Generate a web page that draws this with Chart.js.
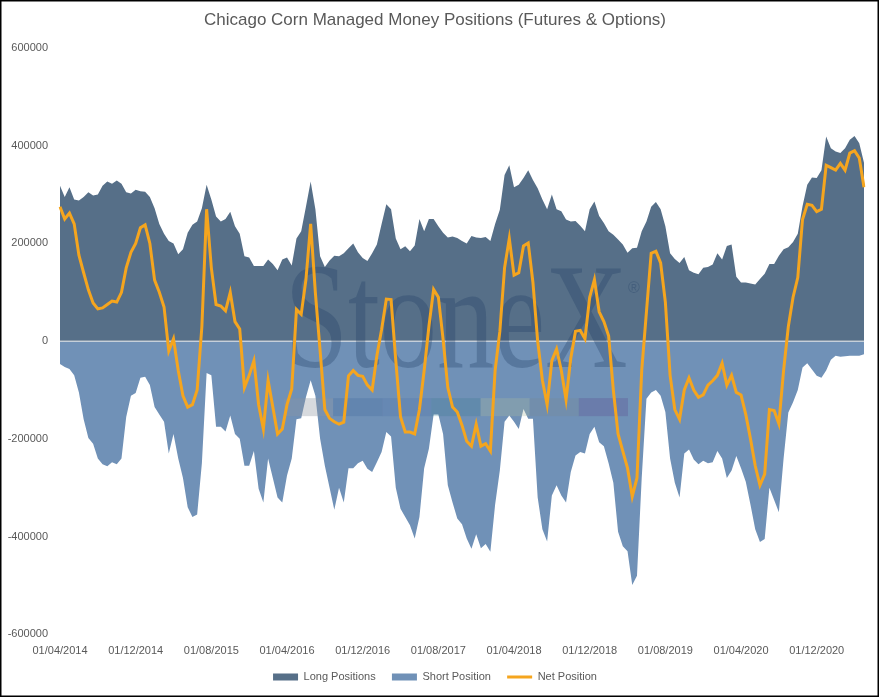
<!DOCTYPE html>
<html lang="en">
<head>
<meta charset="utf-8">
<title>Chicago Corn Managed Money Positions</title>
<script src="https://cdn.jsdelivr.net/npm/chart.js@4.4.1/dist/chart.umd.min.js"></script>
<style>
  html, body { margin: 0; padding: 0; background: #fff; }
  #wrap { width: 880px; height: 698px; position: relative; }
</style>
</head>
<body>
<div id="wrap"><canvas id="chart" width="880" height="698"></canvas></div>
<script>
// values, about every half month from 01/04/2014 (thousands of contracts)
var longPositions = [
  318,295,315,290,288,295,305,298,300,318,327,322,329,322,305,302,310,307,306,295,
  272,240,220,205,200,178,188,222,238,245,272,320,290,255,245,250,
  265,235,220,174,171,154,154,154,167,158,145,167,171,155,210,225,275,327,270,174,
  152,165,175,174,180,190,200,182,170,164,180,198,240,280,270,210,188,194,184,196,
  250,225,250,250,235,222,212,
  214,211,205,200,215,212,211,213,205,240,269,340,360,315,320,334,350,330,313,290,
  270,300,270,266,249,245,246,236,225,270,286,256,242,225,218,208,198,181,190,191,
  225,245,
  275,285,270,235,180,168,160,172,145,140,137,150,152,157,180,167,195,198,132,120,
  120,118,116,127,138,158,158,175,188,192,203,220,276,320,335,334,350,419,395,388,
  385,395,412,420,405,365
];
var shortPositions = [
  -47,-53,-57,-70,-105,-160,-198,-210,-240,-252,-256,-248,-252,-240,-155,-112,-106,-75,-73,-90,
  -135,-150,-165,-230,-190,-240,-280,-340,-360,-355,-250,-65,-70,-175,-175,-185,
  -152,-190,-200,-255,-255,-225,-302,-330,-240,-280,-320,-330,-275,-240,-160,-158,-115,-80,-112,-200,
  -255,-300,-345,-300,-330,-260,-260,-250,-245,-261,-268,-248,-227,-186,-195,-300,-343,-360,-377,-404,
  -360,-260,-220,-150,-150,-190,-295,
  -330,-363,-375,-404,-425,-395,-424,-415,-431,-335,-265,-165,-152,-165,-180,-139,-159,-159,-320,-385,
  -410,-316,-295,-316,-330,-268,-234,-227,-230,-190,-175,-207,-215,-250,-290,-390,-420,-430,-499,-480,
  -280,-118,
  -105,-100,-112,-145,-240,-290,-320,-230,-222,-242,-252,-245,-250,-248,-225,-240,-280,-265,-235,-260,
  -288,-335,-385,-411,-405,-300,-325,-350,-240,-146,-125,-100,-54,-45,-58,-71,-75,-60,-38,-30,
  -32,-31,-30,-30,-30,-27
];
var netPositions = [
  275,250,262,240,176,140,105,78,66,68,75,82,80,100,150,182,200,232,238,200,
  125,100,70,-20,5,-60,-112,-135,-130,-100,30,270,150,75,72,62,
  100,40,25,-95,-70,-40,-130,-180,-80,-135,-190,-180,-130,-98,65,55,126,240,99,-20,
  -140,-158,-165,-170,-166,-71,-60,-70,-72,-90,-100,-30,24,86,85,-40,-155,-186,-186,-190,
  -140,-60,30,106,90,4,-95,
  -135,-145,-172,-205,-215,-170,-215,-210,-225,-60,20,150,210,135,140,195,201,120,0,-80,
  -130,-40,-16,-60,-120,-35,20,22,5,90,126,60,40,11,-100,-190,-225,-260,-318,-280,
  -60,60,
  180,184,160,80,-70,-140,-160,-100,-75,-100,-115,-110,-90,-81,-70,-45,-90,-70,-105,-110,
  -150,-200,-255,-295,-272,-140,-142,-169,-60,30,90,130,249,280,278,265,270,360,355,350,
  364,350,385,390,375,315
];
var tickLabels = ['01/04/2014','01/12/2014','01/08/2015','01/04/2016','01/12/2016','01/08/2017',
                  '01/04/2018','01/12/2018','01/08/2019','01/04/2020','01/12/2020'];
var yTicks = [-600000, -400000, -200000, 0, 200000, 400000, 600000];

// half-month dates as category labels
var categories = [];
for (var k = 0; k < longPositions.length; k++) {
  var m = 3 + Math.floor(k / 2);
  var yr = 2014 + Math.floor(m / 12);
  var mm = String(m % 12 + 1).padStart(2, '0');
  categories.push((k % 2 ? '15' : '01') + '/' + mm + '/' + yr);
}
function toContracts(a) { return a.map(function (v) { return v * 1000; }); }

var darkBlue = '#566f88';
var lightBlue = '#7091b7';
var orange = '#f5a51e';
var greyText = '#595959';

//Logo, zero line and frame
var decor = {
  id: 'decor',
  afterDatasetDraw: function (chart, args) {
    if (args.index !== 1) return;
    var ctx = chart.ctx, area = chart.chartArea;
    var y0 = chart.scales.y.getPixelForValue(0);
    ctx.save();
    ctx.strokeStyle = '#e8e8e8';
    ctx.lineWidth = 1;
    ctx.beginPath();
    ctx.moveTo(area.left, y0);
    ctx.lineTo(area.right, y0);
    ctx.stroke();

    var cx = (area.left + area.right) / 2 - 6;
    ctx.font = '150px "Liberation Serif"';
    var w = ctx.measureText('StoneX').width;
    ctx.translate(cx, y0 + 26);
    ctx.scale(343 / w, 1);
    ctx.fillStyle = 'rgba(30, 60, 100, 0.3)';
    ctx.textAlign = 'center';
    ctx.textBaseline = 'alphabetic';
    ctx.fillText('StoneX', 0, 0);
    ctx.restore();

    ctx.save();
    ctx.fillStyle = 'rgba(30, 60, 100, 0.3)';
    ctx.font = '16px "Liberation Sans"';
    ctx.textAlign = 'center';
    ctx.fillText('\u00AE', cx + 178, y0 - 53);
    var barColors = ['rgba(140,150,160,0.35)', 'rgba(50,90,150,0.22)', 'rgba(60,100,160,0.18)',
                     'rgba(50,120,140,0.25)', 'rgba(170,185,160,0.3)', 'rgba(120,135,150,0.3)',
                     'rgba(95,85,150,0.35)'];
    var bx = cx - 172, bw = 344 / barColors.length;
    barColors.forEach(function (c, i) {
      ctx.fillStyle = c;
      ctx.fillRect(bx + i * bw, y0 + 57, bw, 18);
    });
    ctx.restore();
  },
  afterDraw: function (chart) {
    var ctx = chart.ctx;
    ctx.save();
    ctx.strokeStyle = '#000';
    ctx.lineWidth = 1.5;
    ctx.strokeRect(0.75, 0.75, chart.width - 2.5, chart.height - 2.5);
    ctx.restore();
  }
};

var ctx = document.getElementById('chart').getContext('2d');
var chart = new Chart(ctx, {
  type: 'line',
  data: {
    labels: categories,
    datasets: [{
      label: 'Long Positions',
      data: toContracts(longPositions),
      backgroundColor: darkBlue,
      borderColor: darkBlue,
      borderWidth: 0,
      fill: 'origin',
      pointRadius: 0,
      pointStyle: 'rect',
      order: 2
    }, {
      label: 'Short Position',
      data: toContracts(shortPositions),
      backgroundColor: lightBlue,
      borderColor: lightBlue,
      borderWidth: 0,
      fill: 'origin',
      pointRadius: 0,
      pointStyle: 'rect',
      order: 1
    }, {
      label: 'Net Position',
      data: toContracts(netPositions),
      borderColor: orange,
      backgroundColor: orange,
      borderWidth: 3,
      fill: false,
      pointRadius: 0,
      pointStyle: 'line',
      order: 0
    }]
  },
  options: {
    responsive: false,
    animation: false,
    layout: { padding: { left: 6, right: 16, top: 0, bottom: 5.5 } },
    plugins: {
      title: {
        display: true,
        text: 'Chicago Corn Managed Money Positions (Futures & Options)',
        color: greyText,
        font: { family: 'Liberation Sans', size: 17, weight: 'normal' },
        padding: { top: 10, bottom: 17.6 }
      },
      legend: {
        position: 'bottom',
        labels: {
          sort: function (a, b) { return a.datasetIndex - b.datasetIndex; },
          generateLabels: function (chart) {
            var items = Chart.defaults.plugins.legend.labels.generateLabels(chart);
            // trailing spaces give the gap between entries
            items.forEach(function (it) {
              if (it.datasetIndex < 2) it.text = it.text + '    ';
            });
            return items;
          },
          usePointStyle: true,
          pointStyleWidth: 25,
          boxHeight: 7,
          padding: 4,
          color: greyText,
          font: { family: 'Liberation Sans', size: 11 }
        }
      },
      tooltip: { enabled: false }
    },
    scales: {
      x: {
        offset: false,
        grid: { display: false, drawTicks: false },
        border: { display: false },
        ticks: {
          autoSkip: false,
          maxRotation: 0,
          padding: 10,
          color: greyText,
          font: { family: 'Liberation Sans', size: 11 },
          callback: function (v, i) {
            return tickLabels.indexOf(categories[i]) >= 0 ? categories[i] : null;
          }
        }
      },
      y: {
        min: yTicks[0],
        max: yTicks[yTicks.length - 1],
        afterFit: function (scale) { scale.width = 54; },
        afterBuildTicks: function (scale) {
          scale.ticks = yTicks.map(function (v) { return { value: v }; });
        },
        grid: { display: false, drawTicks: false },
        border: { display: false },
        ticks: {
          padding: 12,
          color: greyText,
          font: { family: 'Liberation Sans', size: 11 },
          callback: function (v) { return String(v); }
        }
      }
    }
  },
  plugins: [decor]
});
</script>
</body>
</html>
